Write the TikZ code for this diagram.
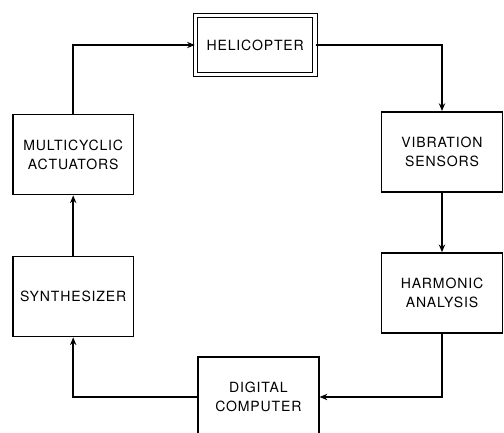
\documentclass[tikz,border=0pt]{standalone}
\usepackage{fontspec}
\setmainfont{TeX Gyre Heros}[LetterSpace=6]
\usepackage{tikz}
\usetikzlibrary{arrows.meta}

\begin{document}
\begin{tikzpicture}[scale=1.0, >={Stealth[length=5.5pt, width=4.5pt]},
        khoi/.style={draw, line width=1.1pt, minimum width=3.02cm, minimum height=2cm, align=center, font=\fontsize{10}{13.5}\selectfont},
        noi/.style={line width=1pt}]
        % Khung hình
        \clip (0,0) rectangle (12.6,10.825);

        % Máy bay trực thăng (khung đôi)
        \node[khoi, double, double distance=2.2pt, line width=0.9pt, minimum width=2.99cm, minimum height=1.47cm] (heli) at (6.38,9.7) {HELICOPTER};

        % Nhánh bên phải
        \node[khoi] (vs) at (11.05,7.03) {VIBRATION\\SENSORS};
        \node[khoi] (ha) at (11.05,3.5) {HARMONIC\\ANALYSIS};

        % Máy tính ở dưới
        \node[khoi] (dc) at (6.46,0.9) {DIGITAL\\COMPUTER};

        % Nhánh bên trái
        \node[khoi] (syn) at (1.83,3.41) {SYNTHESIZER};
        \node[khoi] (ma) at (1.83,6.96) {MULTICYCLIC\\ACTUATORS};

        % Các mũi tên của vòng lặp
        \draw[->, noi] (heli.east) -| (vs.north);
        \draw[->, noi] (vs.south) -- (ha.north);
        \draw[->, noi] (ha.south) |- (dc.east);
        \draw[->, noi] (dc.west) -| (syn.south);
        \draw[->, noi] (syn.north) -- (ma.south);
        \draw[->, noi] (ma.north) |- (heli.west);
    \end{tikzpicture}
\end{document}
